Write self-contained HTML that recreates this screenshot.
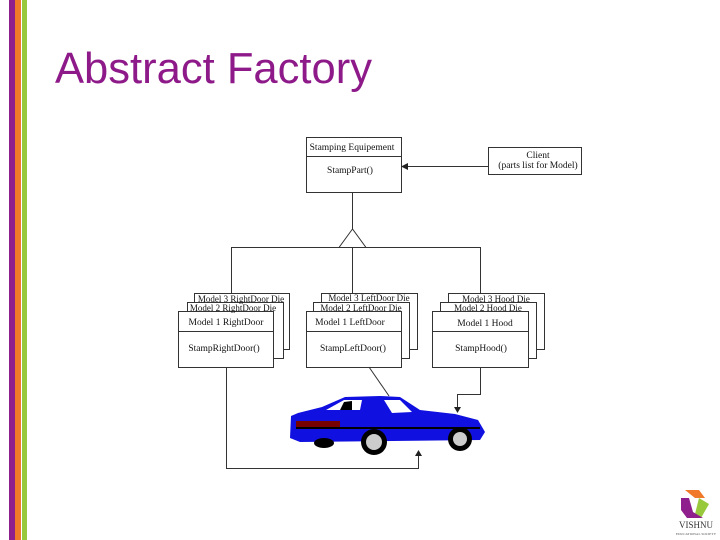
<!DOCTYPE html>
<html><head><style>
html,body{margin:0;padding:0;background:#fff;}
svg{display:block;}
</style></head><body>
<svg width="720" height="540" viewBox="0 0 720 540" xmlns="http://www.w3.org/2000/svg" font-family="Liberation Serif, serif">
<rect x="9" y="0" width="6" height="540" fill="#8e1f8c"/>
<rect x="15" y="0" width="6" height="540" fill="#f07a2a"/>
<rect x="22" y="0" width="5" height="540" fill="#98c93c"/>
<text x="55" y="83" font-family="Liberation Sans, sans-serif" font-size="44" fill="#8e1a8a" textLength="317" lengthAdjust="spacingAndGlyphs">Abstract Factory</text>

<g stroke="#333" stroke-width="1" fill="#fff">
<rect x="306.5" y="137.5" width="95" height="55"/>
<line x1="306" y1="156.5" x2="401" y2="156.5"/>
<rect x="488.5" y="147.5" width="93" height="27"/>
<line x1="488" y1="166.5" x2="406" y2="166.5"/>
<line x1="352.5" y1="192" x2="352.5" y2="229"/>
<polygon points="352.5,229 339,247.5 366,247.5"/>
<polyline fill="none" points="231.5,293 231.5,247.5 480.5,247.5 480.5,293"/>
<line x1="352.5" y1="247" x2="352.5" y2="293"/>
<rect x="194.5" y="293.5" width="95" height="56"/>
<rect x="187.5" y="302.5" width="96" height="56"/>
<rect x="178.5" y="311.5" width="95" height="56"/>
<line x1="178" y1="331.5" x2="273" y2="331.5"/>
<rect x="321.5" y="293.5" width="96" height="56"/>
<rect x="313.5" y="302.5" width="96" height="56"/>
<rect x="306.5" y="311.5" width="95" height="56"/>
<line x1="306" y1="331.5" x2="401" y2="331.5"/>
<rect x="448.5" y="293.5" width="96" height="56"/>
<rect x="440.5" y="302.5" width="96" height="56"/>
<rect x="432.5" y="311.5" width="96" height="56"/>
<line x1="432" y1="331.5" x2="528" y2="331.5"/>
<polyline fill="none" points="226.5,367 226.5,468.5 418.5,468.5 418.5,452"/>
<line x1="369" y1="367" x2="389" y2="396"/>
<polyline fill="none" points="480.5,367 480.5,394.5 457.5,394.5 457.5,410"/>
</g>
<polygon points="401,166.5 408,163 408,170" fill="#222"/>
<polygon points="457.5,413 454,407 461,407" fill="#222"/>
<polygon points="418.5,450 415,456 422,456" fill="#222"/>

<g font-size="9.5" fill="#111" text-anchor="middle">
<text x="352" y="150">Stamping Equipement</text>
<text x="350" y="173">StampPart()</text>
<text x="538" y="158">Client</text>
<text x="538" y="168">(parts list for Model)</text>
<text x="241" y="302" font-size="9">Model 3 RightDoor Die</text>
<text x="233" y="311" font-size="9">Model 2 RightDoor Die</text>
<text x="226" y="325">Model 1 RightDoor</text>
<text x="224" y="351">StampRightDoor()</text>
<text x="369" y="301" font-size="9">Model 3 LeftDoor Die</text>
<text x="361" y="311" font-size="9">Model 2 LeftDoor Die</text>
<text x="350" y="325">Model 1 LeftDoor</text>
<text x="353" y="351">StampLeftDoor()</text>
<text x="496" y="302" font-size="9">Model 3 Hood Die</text>
<text x="488" y="311" font-size="9">Model 2 Hood Die</text>
<text x="485" y="326">Model 1 Hood</text>
<text x="481" y="351">StampHood()</text>
</g>

<g>
<path d="M322,407 L345,397 L380,396 L400,397 L420,410 L455,414 L478,420 L485,432 L480,440 L300,442 L290,438 L291,416 L298,413 Z" fill="#1010e0"/>
<path d="M326,410 L344,400 L362,400 L360,410 Z" fill="#fff"/>
<path d="M340,410 L344,402 L352,401 L352,410 Z" fill="#000"/>
<path d="M384,400 L400,400 L412,412 L392,413 Z" fill="#fff"/>
<rect x="296" y="421" width="44" height="6" fill="#700"/>
<line x1="296" y1="428" x2="480" y2="428" stroke="#000" stroke-width="2"/>
<circle cx="374" cy="442" r="13" fill="#000"/><circle cx="374" cy="442" r="8" fill="#ccc"/>
<circle cx="460" cy="439" r="12" fill="#000"/><circle cx="460" cy="439" r="7" fill="#ccc"/>
<ellipse cx="324" cy="443" rx="10" ry="5" fill="#000"/>
</g>

<g transform="translate(679,488)">
<path d="M6,2 L20,2 L26,10 L16,10 Z" fill="#f07a2a"/>
<path d="M20,10 L30,16 L22,30 L16,26 Z" fill="#98c93c"/>
<path d="M2,10 L10,10 L14,24 L24,30 L8,30 L2,22 Z" fill="#8e1f8c"/>
</g>
<text x="696" y="528" font-size="9" text-anchor="middle" fill="#333">VISHNU</text>
<text x="696" y="535" font-size="3.5" text-anchor="middle" fill="#555">EDUCATIONAL SOCIETY</text>
</svg>
</body></html>
